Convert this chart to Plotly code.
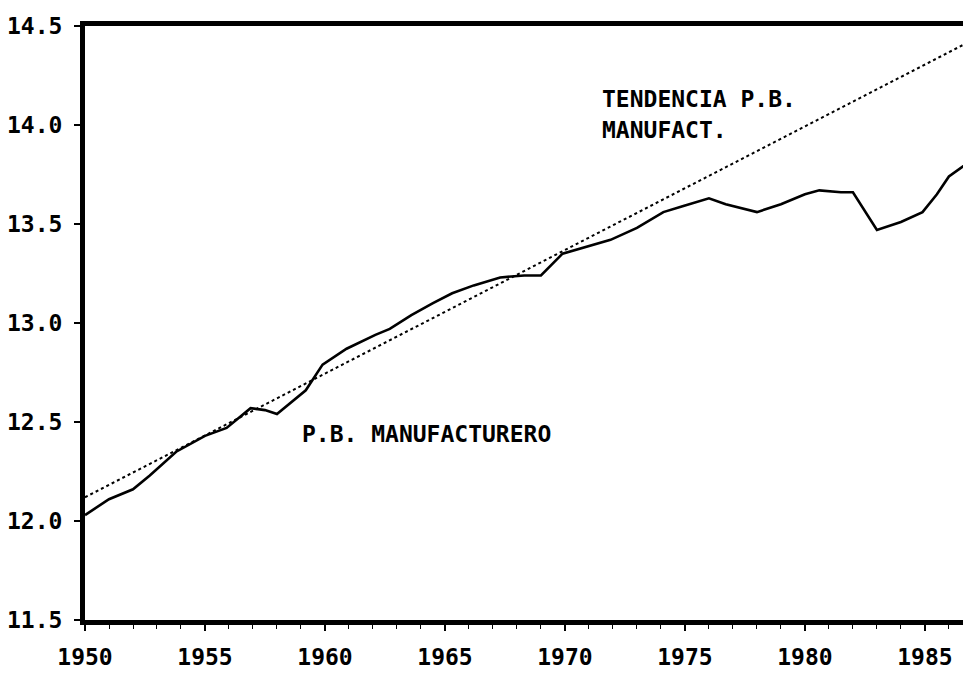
import plotly.graph_objects as go

# ---- data ----
years = [1950.0, 1951.0, 1952.0, 1952.7, 1953.8, 1955.0, 1955.9, 1956.9, 1957.5, 1958.0,
         1959.2, 1959.9, 1960.9, 1962.1, 1962.7, 1963.6, 1964.5, 1965.3, 1966.2, 1967.3,
         1968.3, 1969.0, 1969.9, 1971.0, 1971.9, 1973.0, 1974.1, 1974.9, 1976.0, 1976.7,
         1978.0, 1979.0, 1980.0, 1980.6, 1981.5, 1982.0, 1983.0, 1984.0, 1984.9, 1985.5,
         1986.0, 1986.92]
pb_manufacturero = [12.03, 12.11, 12.16, 12.23, 12.35, 12.43, 12.47, 12.57, 12.56, 12.54,
                    12.66, 12.79, 12.87, 12.94, 12.97, 13.04, 13.10, 13.15, 13.19, 13.23,
                    13.24, 13.24, 13.35, 13.39, 13.42, 13.48, 13.56, 13.59, 13.63, 13.60,
                    13.56, 13.60, 13.65, 13.67, 13.66, 13.66, 13.47, 13.51, 13.56, 13.65,
                    13.74, 13.82]

trend_years = [1950.0, 1987.0]
trend_values = [12.12, 14.43]

x_tickvals = [1950, 1955, 1960, 1965, 1970, 1975, 1980, 1985]
x_ticktext = ["1950", "1955", "1960", "1965", "1970", "1975", "1980", "1985"]
y_tickvals = [11.5, 12.0, 12.5, 13.0, 13.5, 14.0, 14.5]
y_ticktext = ["11.5", "12.0", "12.5", "13.0", "13.5", "14.0", "14.5"]

FONT = "DejaVu Sans Mono"

fig = go.Figure()
fig.add_trace(go.Scatter(x=trend_years, y=trend_values, mode="lines",
                         line=dict(color="black", width=2, dash="dot"),
                         name="TENDENCIA P.B. MANUFACT.", showlegend=False))
fig.add_trace(go.Scatter(x=years, y=pb_manufacturero, mode="lines",
                         line=dict(color="black", width=2.6),
                         name="P.B. MANUFACTURERO", showlegend=False))

fig.add_annotation(x=1971.45, y=14.13, xref="x", yref="y", text="TENDENCIA P.B.",
                   showarrow=False, xanchor="left", yanchor="middle",
                   font=dict(family=FONT, size=23, color="black", weight="bold"))
fig.add_annotation(x=1971.45, y=13.975, xref="x", yref="y", text="MANUFACT.",
                   showarrow=False, xanchor="left", yanchor="middle",
                   font=dict(family=FONT, size=23, color="black", weight="bold"))
fig.add_annotation(x=1958.95, y=12.44, xref="x", yref="y", text="P.B. MANUFACTURERO",
                   showarrow=False, xanchor="left", yanchor="middle",
                   font=dict(family=FONT, size=23, color="black", weight="bold"))

fig.update_layout(
    width=963, height=667,
    margin=dict(l=77, r=0, t=18, b=55),
    paper_bgcolor="white", plot_bgcolor="white",
    font=dict(family=FONT, size=23, color="black", weight="bold"),
    showlegend=False,
)
fig.update_xaxes(range=[1950, 1986.92], tickmode="array", tickvals=x_tickvals, ticktext=x_ticktext,
                 showgrid=False, zeroline=False, showline=True, linecolor="black", linewidth=5,
                 mirror=True, ticks="outside", ticklen=6, tickwidth=1.5, tickcolor="black",
                 ticklabelstandoff=6,
                 tickfont=dict(family=FONT, size=23, color="black", weight="bold"),
                 minor=dict(ticks="outside", ticklen=4, tickwidth=1.2, tickcolor="black",
                            dtick=1, tick0=1950, showgrid=False))
fig.update_yaxes(range=[11.5, 14.5], tickmode="array", tickvals=y_tickvals, ticktext=y_ticktext,
                 showgrid=False, zeroline=False, showline=True, linecolor="black", linewidth=5,
                 mirror=False, ticks="outside", ticklen=6, tickwidth=1.5, tickcolor="black",
                 ticklabelstandoff=7,
                 tickfont=dict(family=FONT, size=23, color="black", weight="bold"))

fig.write_html("out.html")
